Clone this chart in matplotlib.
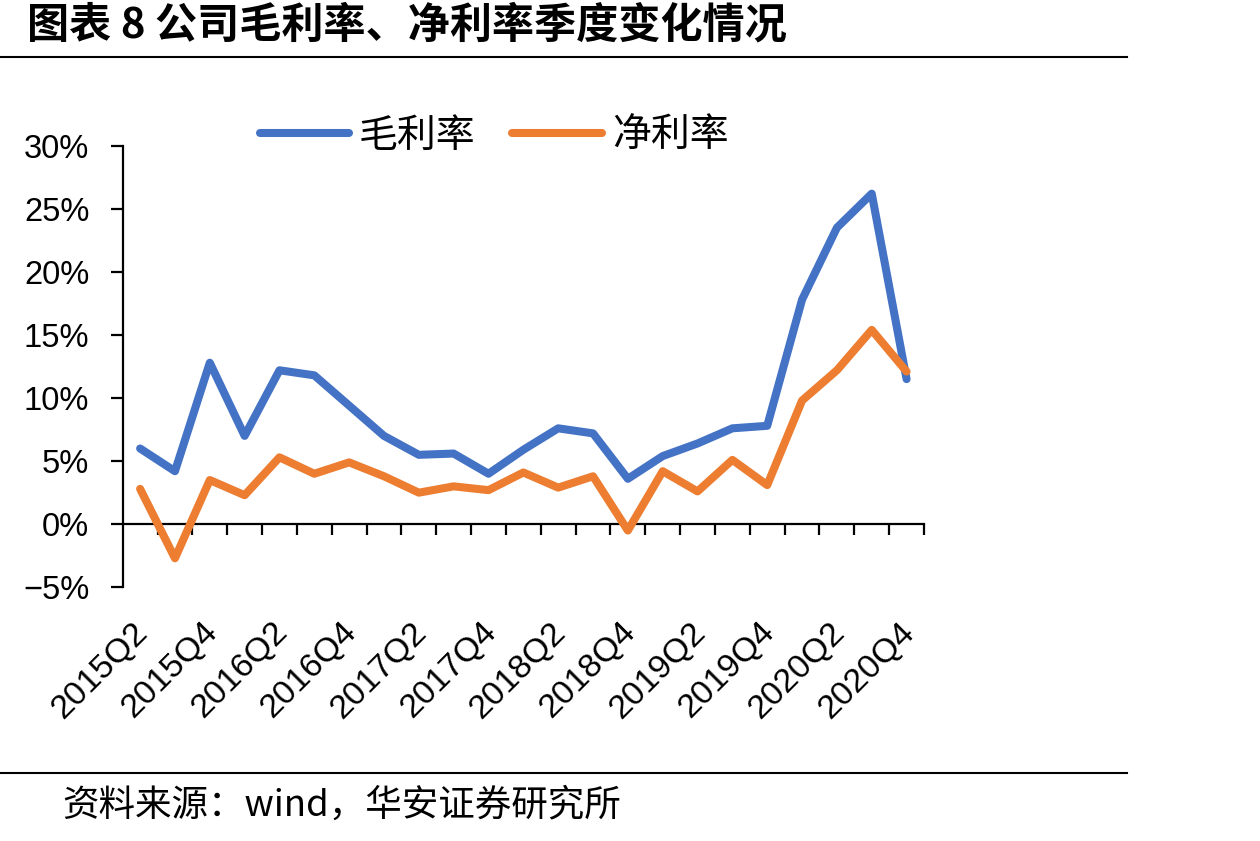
import matplotlib
matplotlib.use("Agg")
import matplotlib.pyplot as plt
from matplotlib.lines import Line2D
from matplotlib.ticker import PercentFormatter
from matplotlib.transforms import ScaledTranslation

# quarterly gross / net margin (%)
quarters = ["2015Q2", "2015Q3", "2015Q4", "2016Q1", "2016Q2", "2016Q3", "2016Q4",
            "2017Q1", "2017Q2", "2017Q3", "2017Q4", "2018Q1", "2018Q2", "2018Q3",
            "2018Q4", "2019Q1", "2019Q2", "2019Q3", "2019Q4", "2020Q1", "2020Q2",
            "2020Q3", "2020Q4"]
gross_margin = [6.0, 4.2, 12.8, 7.0, 12.2, 11.8, 9.4, 7.0, 5.5, 5.6, 4.0, 5.9,
                7.6, 7.2, 3.6, 5.4, 6.4, 7.6, 7.8, 17.8, 23.5, 26.2, 11.5]
net_margin = [2.8, -2.7, 3.5, 2.3, 5.3, 4.0, 4.9, 3.8, 2.5, 3.0, 2.7, 4.1,
              2.9, 3.8, -0.5, 4.2, 2.6, 5.1, 3.1, 9.8, 12.2, 15.4, 12.1]
series_names = ["毛利率", "净利率"]
y_ticks = [-5, 0, 5, 10, 15, 20, 25, 30]

title = "图表 8 公司毛利率、净利率季度变化情况"
source = "资料来源：wind，华安证券研究所"

plt.rcParams["font.family"] = ["Liberation Sans", "DejaVu Sans"]
plt.rcParams["axes.unicode_minus"] = True
cjk = ["Noto Sans CJK SC", "DejaVu Sans"]

BLUE = "#4472C4"
ORANGE = "#ED7D31"

W, H = 1260, 841
fig = plt.figure(figsize=(W / 100, H / 100), dpi=100)
ax = fig.add_axes([122.7 / W, 1 - 587.3 / H, (924 - 122.7) / W, (587.3 - 145.7) / H])

x = list(range(len(quarters)))
ax.plot(x, gross_margin, color=BLUE, lw=5.8, solid_capstyle="round",
        solid_joinstyle="round", label=series_names[0])
ax.plot(x, net_margin, color=ORANGE, lw=5.8, solid_capstyle="round",
        solid_joinstyle="round", label=series_names[1])

ymin, ymax = y_ticks[0], y_ticks[-1]
ax.set_ylim(ymin, ymax)
ax.set_xlim(-0.5, len(quarters) - 0.5)
ax.set_yticks(y_ticks)
ax.yaxis.set_major_formatter(PercentFormatter(decimals=0))

for s in ["top", "right", "bottom"]:
    ax.spines[s].set_visible(False)
ax.spines["left"].set_linewidth(1.6)
ax.tick_params(axis="y", direction="out", length=9, width=1.6, pad=15, labelsize=23.5)

# category labels at the bottom, every other quarter
ax.set_xticks(x[::2])
ax.set_xticklabels(quarters[::2], rotation=45, ha="right", va="top",
                   rotation_mode="anchor", fontsize=24.5)
ax.tick_params(axis="x", length=0, pad=21)
shift = ScaledTranslation(-8 / 100, 0, fig.dpi_scale_trans)
for lab in ax.get_xticklabels():
    lab.set_transform(lab.get_transform() + shift)

# horizontal axis line at zero with ticks between categories
zero_ax = ax.secondary_xaxis((0 - ymin) / (ymax - ymin))
zero_ax.spines["bottom"].set_linewidth(1.6)
zero_ax.set_xticks([i + 0.5 for i in x])
zero_ax.set_xticklabels([])
zero_ax.tick_params(axis="x", direction="out", length=8, width=1.6)

fig.legend(loc="center", bbox_to_anchor=(494 / W, 1 - 136 / H), ncol=2,
           frameon=False, prop={"family": cjk, "size": 28}, handlelength=2.3,
           handletextpad=0.25, columnspacing=0.95, borderpad=0)

fig.text(27 / W, 1 - 25 / H, title, family=cjk, fontsize=30.3, weight="bold",
         ha="left", va="center")
fig.add_artist(Line2D([0, 1127 / W], [1 - 56.5 / H] * 2, transform=fig.transFigure,
                      color="black", lw=1.5))
fig.add_artist(Line2D([0, 1127 / W], [1 - 773 / H] * 2, transform=fig.transFigure,
                      color="black", lw=1.5))
fig.text(62 / W, 1 - 806 / H, source, family=cjk, fontsize=26.3, ha="left", va="center")

fig.savefig("out.png", dpi=100)
